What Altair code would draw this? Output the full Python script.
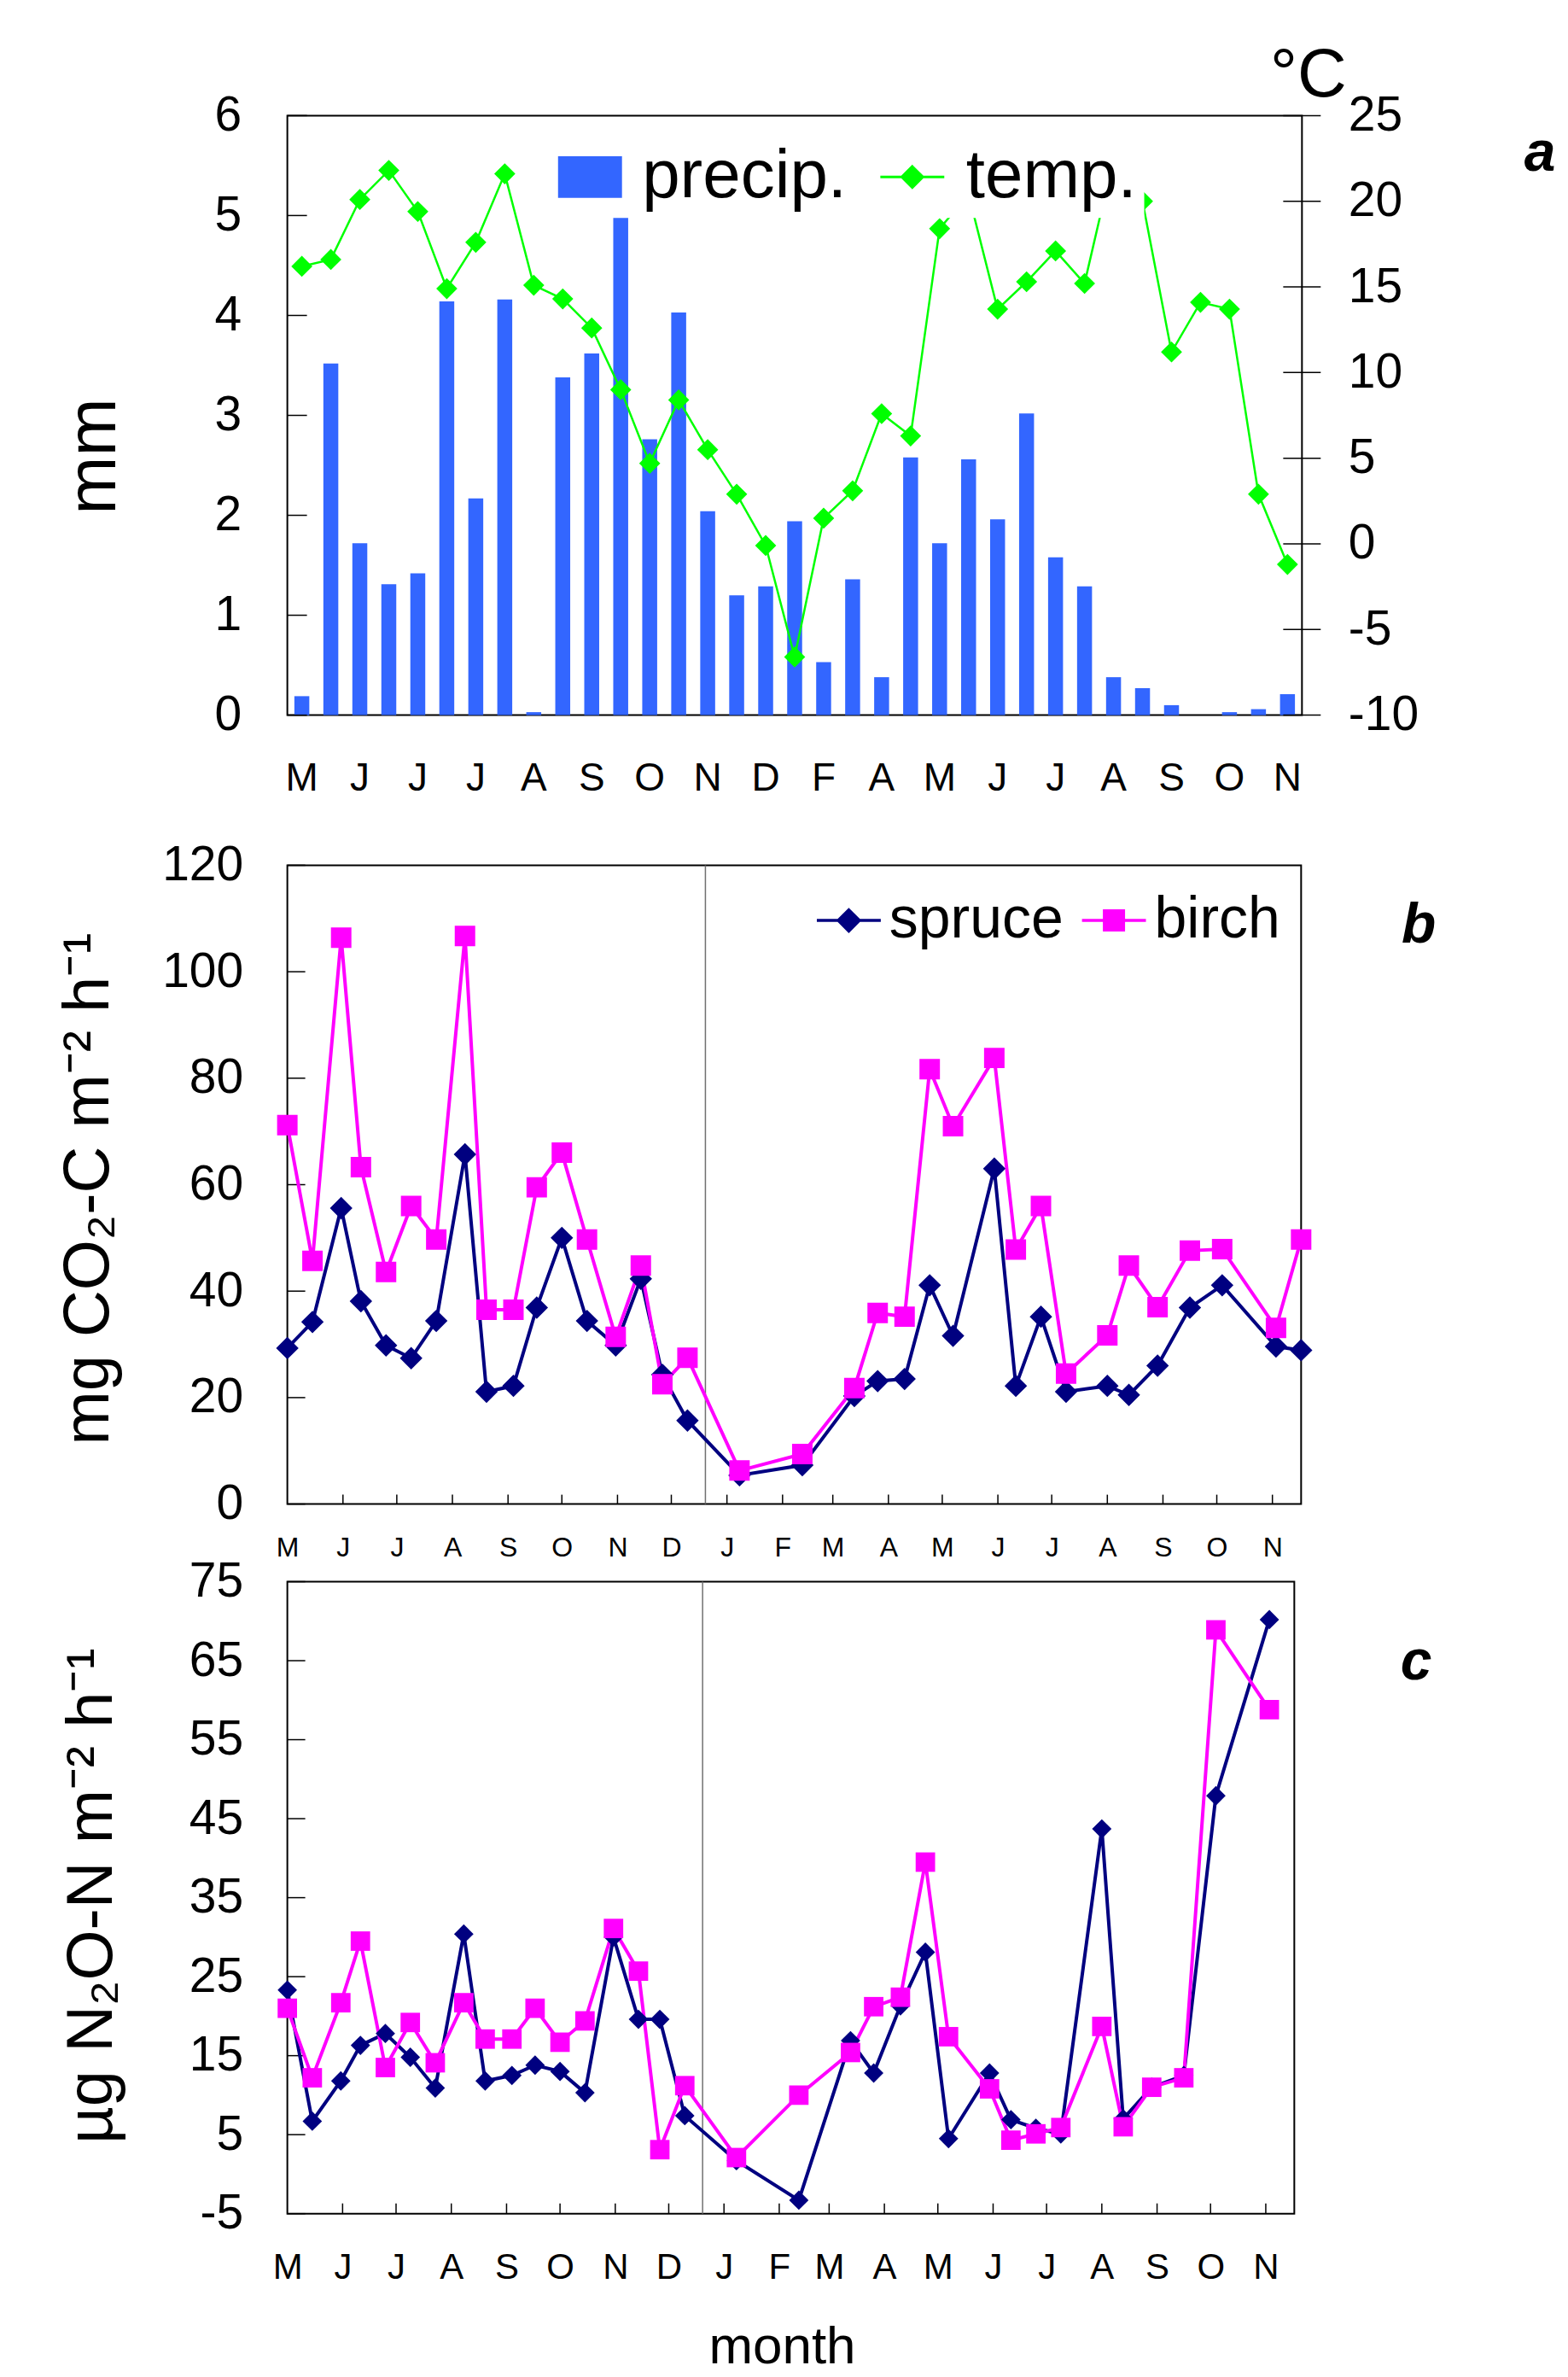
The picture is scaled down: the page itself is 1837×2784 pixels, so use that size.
import json
import altair as alt
import pandas as pd

FONT = "Liberation Sans"

# ---------------- panel a: precipitation (bars) and air temperature ----------------
a_tick_labels = ["M", "J", "J", "J", "A", "S", "O", "N", "D",
                 "F", "A", "M", "J", "J", "A", "S", "O", "N"]
precip_mm = [0.19, 3.52, 1.72, 1.31, 1.42, 4.14, 2.17, 4.16, 0.03, 3.38,
             3.62, 4.98, 2.76, 4.03, 2.04, 1.20, 1.29, 1.94, 0.53, 1.36,
             0.38, 2.58, 1.72, 2.56, 1.96, 3.02, 1.58, 1.29, 0.38, 0.27,
             0.10, 0.00, 0.03, 0.06, 0.21]
temp_c = [16.2, 16.6, 20.1, 21.8, 19.4, 14.9, 17.6, 21.6, 15.1, 14.3,
          12.6, 9.0, 4.7, 8.4, 5.5, 2.9, -0.1, -6.6, 1.5, 3.1,
          7.6, 6.3, 18.4, 20.4, 13.7, 15.3, 17.1, 15.2, 22.5, 20.0,
          11.2, 14.1, 13.7, 2.9, -1.2]
mm_ticks = [0, 1, 2, 3, 4, 5, 6]
temp_ticks = [-10, -5, 0, 5, 10, 15, 20, 25]

# ---------------- sampling dates (panels b and c) ----------------
dates = ["2006-05-01", "2006-05-15", "2006-05-31", "2006-06-11", "2006-06-25",
         "2006-07-09", "2006-07-23", "2006-08-08", "2006-08-20", "2006-09-04",
         "2006-09-17", "2006-10-01", "2006-10-15", "2006-10-31", "2006-11-14",
         "2006-11-26", "2006-12-10", "2007-01-08", "2007-02-12", "2007-03-13",
         "2007-03-26", "2007-04-10", "2007-04-24", "2007-05-07", "2007-05-30",
         "2007-06-11", "2007-06-25", "2007-07-09", "2007-08-01", "2007-08-13",
         "2007-08-29", "2007-09-16", "2007-10-04", "2007-11-03", "2007-11-17"]
month_starts = ["2006-05-01", "2006-06-01", "2006-07-01", "2006-08-01", "2006-09-01",
                "2006-10-01", "2006-11-01", "2006-12-01", "2007-01-01", "2007-02-01",
                "2007-03-01", "2007-04-01", "2007-05-01", "2007-06-01", "2007-07-01",
                "2007-08-01", "2007-09-01", "2007-10-01", "2007-11-01"]
domain_start = "2006-05-01"
domain_end = "2007-11-17"
year_break = "2006-12-20"

# ---------------- panel b: CO2 ----------------
co2_spruce = [29.3, 34.2, 55.6, 38.1, 29.8, 27.4, 34.4, 65.7, 21.1, 22.2,
              36.9, 50.0, 34.4, 29.8, 42.3, 24.3, 15.7, 5.4, 7.3, 20.3,
              23.1, 23.5, 41.1, 31.6, 63.0, 22.2, 35.2, 21.1, 22.2, 20.5,
              26.0, 36.9, 41.1, 29.6, 28.9]
co2_birch = [71.2, 45.7, 106.4, 63.3, 43.6, 56.0, 49.7, 106.7, 36.5, 36.5,
             59.5, 66.0, 49.7, 31.4, 44.8, 22.5, 27.5, 6.3, 9.4, 21.8,
             35.9, 35.2, 81.7, 71.0, 83.8, 47.8, 56.0, 24.5, 31.7, 44.8,
             37.0, 47.6, 47.9, 33.1, 49.7]
co2_ticks = [0, 20, 40, 60, 80, 100, 120]

# ---------------- panel c: N2O ----------------
n2o_spruce = [23.3, 6.7, 11.8, 16.3, 17.8, 14.8, 10.9, 30.4, 11.8, 12.5,
              13.8, 13.0, 10.3, 30.0, 19.6, 19.6, 7.4, 1.7, -3.3, 16.9,
              12.8, 21.3, 28.1, 4.5, 12.8, 6.9, 5.8, 5.1, 43.7, 7.0,
              11.0, 12.5, 47.9, 70.2]
n2o_birch = [21.0, 12.2, 21.7, 29.5, 13.5, 19.2, 14.1, 21.7, 17.1, 17.1,
             21.0, 16.7, 19.4, 31.1, 25.7, 3.1, 11.2, 2.1, 10.0, 15.4,
             21.2, 22.4, 39.5, 17.4, 10.8, 4.3, 5.1, 5.9, 18.7, 6.0,
             11.0, 12.2, 68.9, 58.8]
n2o_ticks = [-5, 5, 15, 25, 35, 45, 55, 65, 75]

series_names = ["spruce", "birch"]
series_colors = ["#000080", "#ff00ff"]
GREEN = "#00ff00"
BLUE = "#3366ff"

# legend symbol paths (unit coordinates)
RECT_PATH = "M-1,-0.65L1,-0.65L1,0.65L-1,0.65Z"
LINE_DIAMOND = "M-1,0L1,0M0,-0.33L0.33,0L0,0.33L-0.33,0Z"
LINE_SQUARE = "M-1,0L1,0M-0.3,-0.3L0.3,-0.3L0.3,0.3L-0.3,0.3Z"
PLAIN_LABEL = "datum.value + ''"   # plain hyphen-minus for negative numbers


def dt(s):
    return alt.DateTime(year=int(s[:4]), month=int(s[5:7]), date=int(s[8:10]), utc=True)


def letter(ch, x, y):
    return alt.Chart(pd.DataFrame({"t": [ch]})).mark_text(
        font=FONT, fontSize=66, fontWeight="bold", fontStyle="italic",
        align="center", baseline="alphabetic", color="black"
    ).encode(text="t:N", x=alt.value(x), y=alt.value(y))


# ======================= PANEL A =======================
W_A, H_A = 1190, 703
n_a = len(precip_mm)
label_per_bar = [a_tick_labels[k // 2] if k % 2 == 0 else "" for k in range(n_a)]
df_a = pd.DataFrame({"i": list(range(n_a)), "precip": precip_mm, "temp": temp_c,
                     "pser": ["precip."] * n_a, "tser": ["temp."] * n_a})

x_a = alt.X("i:O",
            scale=alt.Scale(type="band", paddingInner=0.485, paddingOuter=0.2425),
            axis=alt.Axis(labelExpr=json.dumps(label_per_bar) + "[datum.value]",
                          labelAngle=0, ticks=False, tickSize=0, domain=False,
                          labelFontSize=46, labelPadding=52, labelOverlap=False,
                          title=" ", titleFontSize=10, titlePadding=45))

mm_scale = alt.Scale(domain=[0, 6], nice=False)
temp_scale = alt.Scale(domain=[-10, 25], nice=False, zero=False)

mm_axis = alt.Axis(orient="left", values=mm_ticks, labelExpr=PLAIN_LABEL, ticks=False, tickSize=0,
                   domain=False, grid=False, labelFontSize=57, labelPadding=54,
                   title="mm", titleFontSize=82, titleFontWeight="normal",
                   titleAngle=270, titleAlign="center", titleBaseline="middle",
                   titleX=-227, titleY=399)
temp_axis = alt.Axis(orient="right", values=temp_ticks, labelExpr=PLAIN_LABEL, ticks=False, tickSize=0,
                     domain=False, grid=False, labelFontSize=57, labelPadding=54,
                     title="°C", titleFontSize=80, titleFontWeight="normal",
                     titleAngle=0, titleAlign="center", titleBaseline="alphabetic",
                     titleX=7, titleY=-23)

bars = alt.Chart(df_a).mark_bar(opacity=1).encode(
    x=x_a, y=alt.Y("precip:Q", scale=mm_scale, axis=mm_axis),
    color=alt.Color("pser:N", scale=alt.Scale(domain=["precip."], range=[BLUE]),
                    legend=alt.Legend(title=None, orient="none", legendX=307, legendY=24,
                                      symbolType=RECT_PATH, symbolSize=5625, symbolStrokeWidth=0,
                                      labelFontSize=80, labelOffset=21, labelLimit=0,
                                      padding=8, fillColor="white")))
mm_tick_rules = alt.Chart(pd.DataFrame({"v": mm_ticks})).mark_rule(color="black", strokeWidth=1.5).encode(
    y=alt.Y("v:Q", scale=mm_scale, axis=mm_axis), x=alt.value(0), x2=alt.value(23))

leg_t = alt.Legend(title=None, orient="none", legendX=685, legendY=24,
                   symbolSize=5625, symbolStrokeWidth=3, labelFontSize=80, labelOffset=23,
                   labelLimit=0, padding=8, fillColor="white")
y_temp = alt.Y("temp:Q", scale=temp_scale, axis=temp_axis)
t_line = alt.Chart(df_a).mark_line(color=GREEN, strokeWidth=2.5).encode(x=x_a, y=y_temp)
t_pts = alt.Chart(df_a).mark_point(filled=True, opacity=1).encode(
    x=x_a, y=y_temp,
    shape=alt.Shape("tser:N", scale=alt.Scale(domain=["temp."], range=[LINE_DIAMOND]), legend=leg_t),
    fill=alt.Fill("tser:N", scale=alt.Scale(domain=["temp."], range=[GREEN]), legend=leg_t),
    stroke=alt.Stroke("tser:N", scale=alt.Scale(domain=["temp."], range=[GREEN]), legend=leg_t),
    size=alt.value(5625), strokeWidth=alt.value(0))
temp_tick_rules = alt.Chart(pd.DataFrame({"v": temp_ticks})).mark_rule(color="black", strokeWidth=1.5).encode(
    y=alt.Y("v:Q", scale=temp_scale, axis=temp_axis), x=alt.value(W_A - 22), x2=alt.value(W_A + 22))

panel_a = alt.layer(
    alt.layer(bars, mm_tick_rules),
    alt.layer(t_line, t_pts, temp_tick_rules),
    letter("a", 1469, 65),
).resolve_scale(y="independent").properties(width=W_A, height=H_A)


# ======================= PANELS B & C =======================
time_scale = alt.Scale(type="utc", domain=[dt(domain_start), dt(domain_end)], nice=False)
month_values = [dt(s) for s in month_starts]


def time_axis(font_size, padding, title=None, title_size=62, title_pad=45, title_x=None):
    kw = dict(values=month_values,
              labelExpr="substring(utcFormat(datum.value, '%b'), 0, 1)",
              ticks=False, tickSize=0, domain=False, grid=False,
              labelFontSize=font_size, labelPadding=padding, labelAngle=0,
              labelFlush=False, labelOverlap=False)
    if title is None:
        kw["title"] = None
    else:
        kw.update(title=title, titleFontSize=title_size, titleFontWeight="normal",
                  titlePadding=title_pad)
        if title_x is not None:
            kw["titleX"] = title_x
    return alt.Axis(**kw)


def flux_panel(sp, bi, W, H, ydom, yticks, ytitle, title_x, title_y, x_axis,
               ytick_len, xtick_len, shapes, point_size, legend, lab, lab_x, lab_y, tsize):
    n = len(sp)
    df = pd.DataFrame({"date": dates[:n] + dates[:n], "val": sp + bi,
                       "series": ["spruce"] * n + ["birch"] * n})
    y_scale = alt.Scale(domain=ydom, nice=False, zero=False)
    y_axis = alt.Axis(values=yticks, labelExpr=PLAIN_LABEL, ticks=False, tickSize=0, domain=False,
                      grid=False, labelFontSize=57, labelPadding=52,
                      title=ytitle, titleFontSize=tsize, titleFontWeight="normal",
                      titleAngle=270, titleAlign="center", titleBaseline="middle",
                      titleX=title_x, titleY=title_y)
    x_enc = alt.X("date:T", scale=time_scale, axis=x_axis)
    y_enc = alt.Y("val:Q", scale=y_scale, axis=y_axis)
    color_scale = alt.Scale(domain=series_names, range=series_colors)
    lines = [
        alt.Chart(df).transform_filter(alt.datum.series == s).mark_line(
            strokeWidth=4, color=c).encode(x=x_enc, y=y_enc)
        for s, c in zip(series_names, series_colors)
    ]
    pts = alt.Chart(df).mark_point(filled=True, opacity=1).encode(
        x=x_enc, y=y_enc,
        shape=alt.Shape("series:N", scale=alt.Scale(domain=series_names, range=shapes), legend=legend),
        fill=alt.Fill("series:N", scale=color_scale, legend=legend),
        stroke=alt.Stroke("series:N", scale=color_scale, legend=legend),
        size=alt.value(point_size), strokeWidth=alt.value(0))
    ytick_rules = alt.Chart(pd.DataFrame({"v": yticks})).mark_rule(color="black", strokeWidth=1.5).encode(
        y=alt.Y("v:Q", scale=y_scale, axis=y_axis), x=alt.value(0), x2=alt.value(ytick_len))
    xtick_rules = alt.Chart(pd.DataFrame({"date": month_starts[1:]})).mark_rule(color="black", strokeWidth=1.5).encode(
        x=alt.X("date:T", scale=time_scale, axis=x_axis), y=alt.value(H - xtick_len), y2=alt.value(H))
    divider = alt.Chart(pd.DataFrame({"date": [year_break]})).mark_rule(color="#707070", strokeWidth=1.5).encode(
        x=alt.X("date:T", scale=time_scale, axis=x_axis))
    return alt.layer(divider, ytick_rules, xtick_rules, *lines, pts, letter(lab, lab_x, lab_y)).properties(
        width=W, height=H)


leg_b = alt.Legend(title=None, orient="none", legendX=619, legendY=25, direction="horizontal",
                   symbolSize=5625, symbolStrokeWidth=3.5, labelFontSize=68, labelOffset=8,
                   labelLimit=0, columnPadding=14, padding=0)

panel_b = flux_panel(co2_spruce, co2_birch, 1189, 749, [0, 120], co2_ticks,
                     "mg CO₂-C m⁻² h⁻¹", -233, 379,
                     time_axis(32, 36), 21, 11, [LINE_DIAMOND, LINE_SQUARE], 6400, leg_b,
                     "b", 1327, 91, 76)
panel_c = flux_panel(n2o_spruce, n2o_birch, 1181, 741, [-5, 75], n2o_ticks,
                     "µg N₂O-N m⁻² h⁻¹", -229, 368,
                     time_axis(42, 43, title="month", title_size=62, title_pad=42, title_x=580),
                     21, 12, ["diamond", "square"], 520, None,
                     "c", 1324, 115, 76)

chart = alt.vconcat(panel_a, panel_b, panel_c, spacing=-7).resolve_scale(
    color="independent", fill="independent", stroke="independent", shape="independent"
).resolve_legend(
    color="independent", fill="independent", stroke="independent", shape="independent"
).properties(
    padding={"left": 57, "top": 38, "right": 5, "bottom": 0}, background="white"
).configure_view(
    stroke="black", strokeWidth=2
).configure_axis(
    labelFont=FONT, titleFont=FONT, labelColor="black", titleColor="black", grid=False
).configure_legend(
    labelFont=FONT, labelColor="black"
)

chart.save("out.html", embed_options={"renderer": "svg", "actions": False})
